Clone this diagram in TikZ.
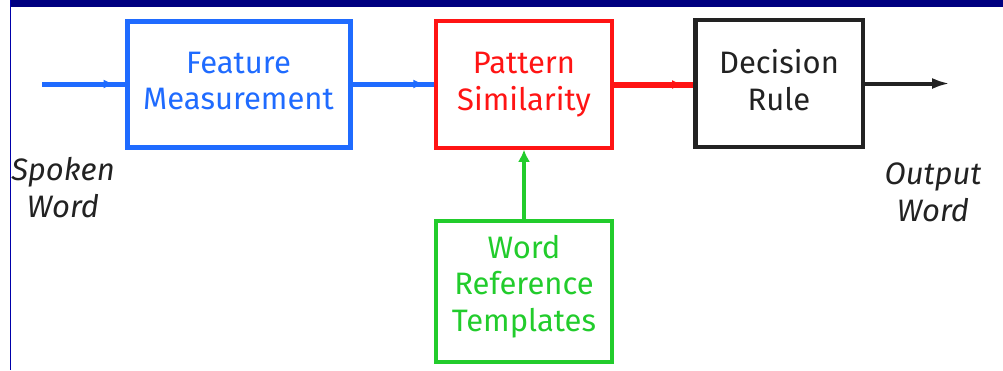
\documentclass[tikz,border=0pt]{standalone}
\usepackage{fontspec}
\setmainfont{Fira Sans}
\usetikzlibrary{arrows.meta,decorations.markings}
\definecolor{fblue}{HTML}{1F6BFF}
\definecolor{fred}{HTML}{FF1414}
\definecolor{fgreen}{HTML}{22CC2C}
\definecolor{fdark}{HTML}{222222}
\definecolor{navy}{HTML}{000080}
\definecolor{rule}{HTML}{0000AA}
% extra depth below the last line, lifting a block's text
\newcommand{\lift}[1]{\rule[-#1]{0pt}{#1}}
\tikzset{
  block/.style={rectangle, align=center, inner sep=0pt,
    font=\fontsize{31}{36.5}\selectfont},
  lab/.style={align=center, inner sep=0pt,
    font=\itshape\fontsize{31}{37}\selectfont, text=fdark},
  midtip/.style={postaction={decorate}, decoration={markings,
    mark=at position -10pt with {\arrow{Latex[length=11pt,width=9pt]}}}}
}
\begin{document}
\begin{tikzpicture}[x=1pt,y=-1pt]
\useasboundingbox (0,0) rectangle (1003,370);
% page frame
\fill[navy] (10,0) rectangle (1003,7);
\fill[rule] (10,0) rectangle (11.3,370);

% processing blocks
\node[block, draw=fblue, text=fblue, line width=5pt,
  minimum width=223pt, minimum height=126pt] (feat) at (238.5,84) {Feature\\Measurement\lift{6pt}};
\node[block, draw=fred, text=fred, line width=3.5pt,
  minimum width=176pt, minimum height=127pt] (pat) at (524,84.5) {Pattern\\Similarity};
\node[block, draw=fdark, text=fdark, line width=4.5pt,
  minimum width=167.5pt, minimum height=127pt] (dec) at (779,83.5) {Decision\\Rule\lift{7pt}};
\node[block, draw=fgreen, text=fgreen, line width=4pt,
  minimum width=175.5pt, minimum height=141pt] (tpl) at (524,291) {Word\\Reference\\Templates\lift{16pt}};

% input and output labels
\node[lab] (spk) at (63,188) {Spoken\\Word};
\node[lab] (outw) at (933,192) {Output\\Word};

% signal path
\coordinate (in) at (42,84);
\coordinate (out) at (950,83.5);
\draw[fblue, line width=5pt, midtip] (in) -- (feat.west |- in);
\draw[fblue, line width=5pt, midtip] (feat.east) -- (pat.west |- feat.east);
\draw[fred, line width=6pt, midtip] (pat.east) -- (dec.west |- pat.east);
\draw[fdark, line width=4pt, -{Latex[length=18pt,width=11pt]}] (dec.east) -- (out);
\draw[fgreen, line width=4pt, -{Latex[length=12pt,width=12pt]}] (tpl.north) -- (pat.south);
\end{tikzpicture}
\end{document}
